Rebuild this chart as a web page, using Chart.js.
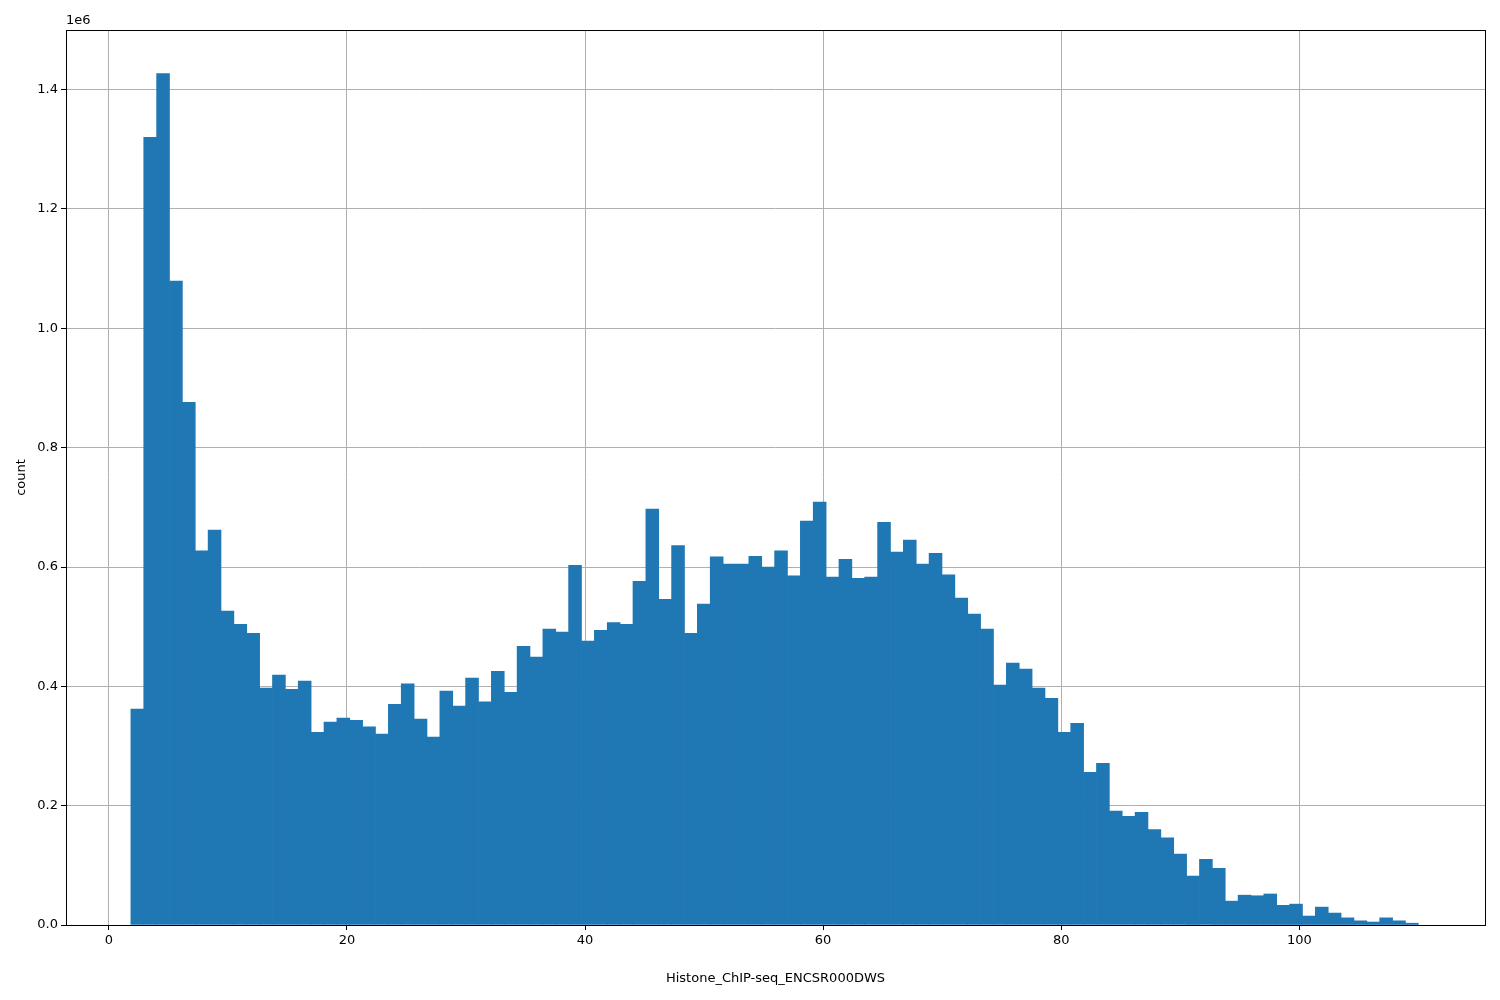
<!DOCTYPE html>
<html><head><meta charset="utf-8">
<script src="https://cdn.jsdelivr.net/npm/chart.js@4"></script>
<style>body{margin:0;background:#fff}</style></head>
<body><canvas id="c" width="1500" height="1000"></canvas>
<script>
const binStart = 1.85;
const binWidth = 1.0815;
const counts = [0.362,1.32,1.427,1.079,0.876,0.627,0.662,0.526,0.504,0.489,
0.397,0.419,0.395,0.409,0.323,0.340,0.347,0.343,0.332,0.320,
0.370,0.404,0.345,0.315,0.392,0.367,0.414,0.374,0.425,0.390,
0.467,0.449,0.496,0.491,0.603,0.476,0.494,0.507,0.504,0.576,
0.697,0.546,0.636,0.489,0.538,0.617,0.605,0.605,0.618,0.600,
0.627,0.585,0.677,0.709,0.583,0.613,0.581,0.583,0.675,0.625,
0.645,0.605,0.623,0.587,0.548,0.521,0.496,0.402,0.439,0.429,
0.397,0.380,0.323,0.338,0.256,0.271,0.191,0.182,0.189,0.160,
0.146,0.119,0.082,0.110,0.095,0.040,0.050,0.049,0.052,0.033,
0.035,0.015,0.030,0.020,0.012,0.007,0.005,0.012,0.007,0.003];
const data = counts.map((v,i)=>({x: binStart + binWidth*(i+0.5), y: v*1e6}));
const font = {family:'DejaVu Sans', size:13};
const frame = {id:'frame', afterDraw(c){const a=c.chartArea,x=c.ctx;x.save();x.strokeStyle='#000';x.lineWidth=1;
x.strokeRect(Math.round(a.left)+0.5,Math.round(a.top)+0.5,Math.round(a.right-a.left),Math.round(a.bottom-a.top));
x.fillStyle='#000';x.font='13px DejaVu Sans';x.textBaseline='bottom';x.fillText('1e6',a.left,a.top-3);x.restore();}};
new Chart(document.getElementById('c'),{
type:'bar',
data:{datasets:[{data, backgroundColor:'#1f77b4', borderWidth:0, barPercentage:1, categoryPercentage:1, grouped:false}]},
options:{responsive:false, animation:false, devicePixelRatio:1,
layout:{padding:{top:30,right:15,left:10,bottom:10}},
plugins:{legend:{display:false},tooltip:{enabled:false}},
scales:{
x:{type:'linear',min:-3.6,max:115.6,z:1,offset:false,
 afterBuildTicks(s){s.ticks=[0,20,40,60,80,100].map(v=>({value:v}));},
 afterFit(s){s.height=65;},
 grid:{color:'#b0b0b0',offset:false,drawTicks:true,tickLength:5,tickColor:'#000'},border:{display:false},
 ticks:{color:'#000',font,maxRotation:0},
 title:{display:true,text:'Histone_ChIP-seq_ENCSR000DWS',color:'#000',font,padding:{top:10}}},
y:{min:0,max:1.5e6,z:1,
 afterBuildTicks(s){s.ticks=[0,0.2,0.4,0.6,0.8,1.0,1.2,1.4].map(v=>({value:v*1e6}));},
 afterFit(s){s.width=56;},
 grid:{color:'#b0b0b0',tickLength:5,tickColor:'#000'},border:{display:false},
 ticks:{color:'#000',font,callback:v=>(v/1e6).toFixed(1)},
 title:{display:true,text:'count',color:'#000',font,padding:{bottom:8}}}
}},
plugins:[frame]});
</script></body></html>
